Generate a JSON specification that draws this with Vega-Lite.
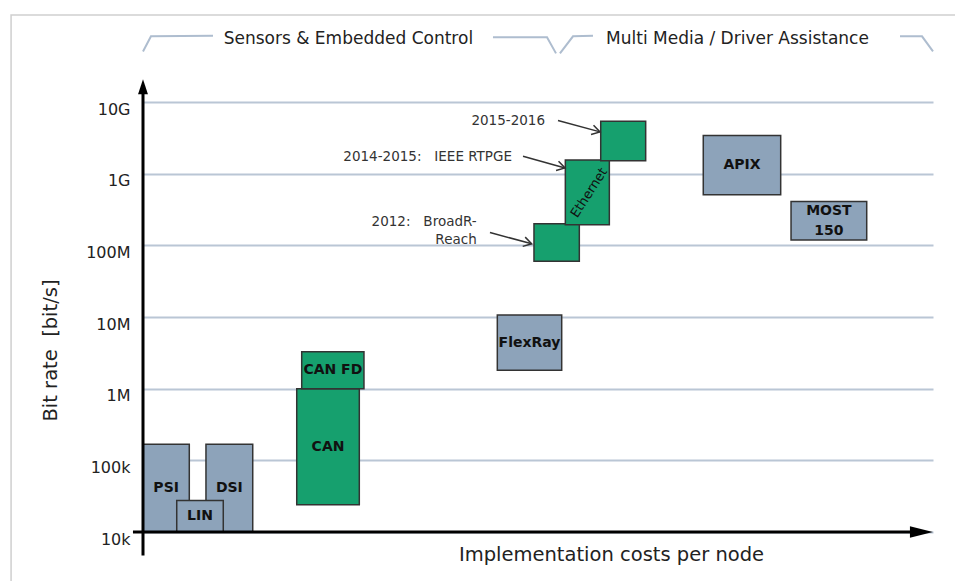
{
  "$schema": "https://vega.github.io/schema/vega-lite/v6.json",
  "width": 790,
  "height": 430,
  "autosize": {"type": "none"},
  "padding": {"left": 143, "top": 102, "right": 22, "bottom": 49},
  "background": "white",
  "config": {
    "view": {"stroke": null},
    "font": "DejaVu Sans",
    "text": {"font": "DejaVu Sans"}
  },
  "datasets": {
    "boxes": [
      {"name": "PSI", "kind": "blue", "x1": 0, "x2": 5.86, "lo": 10000, "hi": 167000},
      {"name": "DSI", "kind": "blue", "x1": 7.97, "x2": 13.89, "lo": 10000, "hi": 167000},
      {"name": "LIN", "kind": "blue", "x1": 4.27, "x2": 10.16, "lo": 10000, "hi": 27500},
      {"name": "CAN", "kind": "green", "x1": 19.46, "x2": 27.38, "lo": 24000, "hi": 1000000},
      {"name": "CAN FD", "kind": "green", "x1": 20.09, "x2": 27.97, "lo": 1000000, "hi": 3270000},
      {"name": "FlexRay", "kind": "blue", "x1": 44.85, "x2": 53.0, "lo": 1800000, "hi": 10700000},
      {"name": "", "kind": "green", "x1": 49.49, "x2": 55.23, "lo": 60000000, "hi": 200000000},
      {"name": "", "kind": "green", "x1": 53.46, "x2": 59.03, "lo": 194000000, "hi": 1550000000},
      {"name": "", "kind": "green", "x1": 57.94, "x2": 63.63, "lo": 1520000000, "hi": 5400000000},
      {"name": "APIX", "kind": "blue", "x1": 70.92, "x2": 80.72, "lo": 508000000, "hi": 3400000000},
      {"name": "MOST\n150", "kind": "blue", "x1": 82.03, "x2": 91.61, "lo": 119000000, "hi": 409000000}
    ],
    "braces": [
      {"g": "a", "o": 1, "cx": 0, "bps": 50800000000},
      {"g": "a", "o": 2, "cx": 1.01, "bps": 82400000000},
      {"g": "a", "o": 3, "cx": 8.86, "bps": 84000000000},
      {"g": "b", "o": 1, "cx": 44.3, "bps": 80000000000},
      {"g": "b", "o": 2, "cx": 51.14, "bps": 80000000000},
      {"g": "b", "o": 3, "cx": 52.28, "bps": 47700000000},
      {"g": "c", "o": 1, "cx": 52.78, "bps": 47700000000},
      {"g": "c", "o": 2, "cx": 54.43, "bps": 82400000000},
      {"g": "c", "o": 3, "cx": 56.96, "bps": 84000000000},
      {"g": "d", "o": 1, "cx": 95.82, "bps": 82400000000},
      {"g": "d", "o": 2, "cx": 98.61, "bps": 82400000000},
      {"g": "d", "o": 3, "cx": 100, "bps": 50800000000}
    ],
    "frame": [
      {"g": "f", "o": 1, "cx": -16.7, "bps": 2070},
      {"g": "f", "o": 2, "cx": -16.7, "bps": 164000000000},
      {"g": "f", "o": 3, "cx": 103, "bps": 164000000000}
    ],
    "groups": [
      {"label": "Sensors & Embedded Control", "cx": 26.0, "bps": 74800000000},
      {"label": "Multi Media / Driver Assistance", "cx": 75.25, "bps": 74800000000}
    ],
    "notes": [
      {"label": "2015-2016", "tx": 50.89, "ty": 5510000000},
      {"label": "2014-2015:\u00a0\u00a0\u00a0IEEE RTPGE", "tx": 46.71, "ty": 1710000000},
      {"label": "2012:\u00a0\u00a0\u00a0BroadR-", "tx": 42.24, "ty": 215000000},
      {"label": "Reach", "tx": 42.24, "ty": 119000000}
    ],
    "arrows": [
      {"ax": 52.53, "ax2": 57.85, "ay": 5510000000, "ay2": 3830000000},
      {"ax": 48.1, "ax2": 53.42, "ay": 1750000000, "ay2": 1200000000},
      {"ax": 43.92, "ax2": 49.2, "ay": 151000000, "ay2": 105000000}
    ],
    "axes": [
      {"axis": "x", "x1": -1.27, "x2": 97.7, "y1": 10000, "y2": 10000},
      {"axis": "y", "x1": 0, "x2": 0, "y1": 4690, "y2": 17000000000}
    ]
  },
  "layer": [
    {
      "data": {"name": "boxes"},
      "mark": {"type": "rect", "stroke": "#333333", "strokeWidth": 1.5},
      "encoding": {
        "x": {
          "field": "x1", "type": "quantitative",
          "scale": {"domain": [0, 100], "nice": false, "zero": false},
          "axis": {
            "title": "Implementation costs per node",
            "labels": false, "ticks": false, "domain": false, "grid": false,
            "titleFontSize": 19.5, "titleFontWeight": "normal", "titleColor": "#222222",
            "titleX": 468, "titleY": 22, "titleBaseline": "middle", "titleAlign": "center"
          }
        },
        "x2": {"field": "x2"},
        "y": {
          "field": "lo", "type": "quantitative",
          "scale": {"type": "log", "domain": [10000, 10000000000], "nice": false, "zero": false},
          "axis": {
            "title": "Bit rate\u00a0\u00a0[bit/s]",
            "values": [10000, 100000, 1000000, 10000000, 100000000, 1000000000, 10000000000],
            "labelExpr": "datum.value >= 1e9 ? (datum.value/1e9) + 'G' : datum.value >= 1e6 ? (datum.value/1e6) + 'M' : (datum.value/1e3) + 'k'",
            "labelFontSize": 16, "labelColor": "#222222", "labelPadding": 13,
            "labelOffset": 7, "labelOverlap": false, "labelBound": false, "labelFlush": false,
            "ticks": false, "tickSize": 0, "domain": false,
            "grid": true, "gridColor": "#bac6d5", "gridWidth": 2,
            "titleFontSize": 19.5, "titleFontWeight": "normal", "titleColor": "#222222",
            "titleAngle": -90, "titleX": -93, "titleY": 248, "titleBaseline": "middle", "titleAlign": "center"
          }
        },
        "y2": {"field": "hi"},
        "fill": {
          "field": "kind", "type": "nominal",
          "scale": {"domain": ["blue", "green"], "range": ["#8da3ba", "#16a06e"]},
          "legend": null
        }
      }
    },
    {
      "data": {"name": "frame"},
      "mark": {"type": "line", "color": "#cfcfcf", "strokeWidth": 1.5},
      "encoding": {
        "x": {"field": "cx", "type": "quantitative"},
        "y": {"field": "bps", "type": "quantitative"},
        "detail": {"field": "g"},
        "order": {"field": "o", "type": "quantitative"}
      }
    },
    {
      "data": {"name": "braces"},
      "mark": {"type": "line", "color": "#aebdcf", "strokeWidth": 2},
      "encoding": {
        "x": {"field": "cx", "type": "quantitative"},
        "y": {"field": "bps", "type": "quantitative"},
        "detail": {"field": "g"},
        "order": {"field": "o", "type": "quantitative"}
      }
    },
    {
      "data": {"name": "groups"},
      "mark": {"type": "text", "fontSize": 17, "color": "#222222", "align": "center", "baseline": "middle"},
      "encoding": {
        "x": {"field": "cx", "type": "quantitative"},
        "y": {"field": "bps", "type": "quantitative"},
        "text": {"field": "label"}
      }
    },
    {
      "data": {"name": "boxes"},
      "transform": [
        {"filter": "datum.name != '' && indexof(datum.name, '\\n') < 0"},
        {"calculate": "(datum.x1 + datum.x2) / 2", "as": "mx"},
        {"calculate": "sqrt(datum.lo * datum.hi)", "as": "my"}
      ],
      "mark": {"type": "text", "fontSize": 14, "fontWeight": "bold", "color": "#111111", "align": "center", "baseline": "middle"},
      "encoding": {
        "x": {"field": "mx", "type": "quantitative"},
        "y": {"field": "my", "type": "quantitative"},
        "text": {"field": "name"}
      }
    },
    {
      "data": {"name": "boxes"},
      "transform": [
        {"filter": "indexof(datum.name, '\\n') >= 0"},
        {"calculate": "(datum.x1 + datum.x2) / 2", "as": "mx"},
        {"calculate": "sqrt(datum.lo * datum.hi)", "as": "my"}
      ],
      "mark": {"type": "text", "fontSize": 14, "fontWeight": "bold", "color": "#111111", "align": "center", "baseline": "middle", "lineBreak": "\n", "lineHeight": 20, "dy": -10},
      "encoding": {
        "x": {"field": "mx", "type": "quantitative"},
        "y": {"field": "my", "type": "quantitative"},
        "text": {"field": "name"}
      }
    },
    {
      "data": {"values": [{"label": "Ethernet", "tx": 56.46, "ty": 542000000}]},
      "mark": {"type": "text", "fontSize": 13, "color": "#111111", "align": "center", "baseline": "middle", "angle": -57},
      "encoding": {
        "x": {"field": "tx", "type": "quantitative"},
        "y": {"field": "ty", "type": "quantitative"},
        "text": {"field": "label"}
      }
    },
    {
      "data": {"name": "notes"},
      "mark": {"type": "text", "fontSize": 13.5, "color": "#333333", "align": "right", "baseline": "middle"},
      "encoding": {
        "x": {"field": "tx", "type": "quantitative"},
        "y": {"field": "ty", "type": "quantitative"},
        "text": {"field": "label"}
      }
    },
    {
      "data": {"name": "arrows"},
      "mark": {"type": "rule", "color": "#333333", "strokeWidth": 1.5},
      "encoding": {
        "x": {"field": "ax", "type": "quantitative"},
        "x2": {"field": "ax2"},
        "y": {"field": "ay", "type": "quantitative"},
        "y2": {"field": "ay2"}
      }
    },
    {
      "data": {"name": "arrows"},
      "mark": {"type": "point", "shape": "M-1,-0.6L0,0L-1,0.6", "filled": false, "stroke": "#333333", "strokeWidth": 1.5, "size": 256, "angle": 15, "opacity": 1},
      "encoding": {
        "x": {"field": "ax2", "type": "quantitative"},
        "y": {"field": "ay2", "type": "quantitative"}
      }
    },
    {
      "data": {"name": "axes"},
      "mark": {"type": "rule", "color": "#000000", "strokeWidth": 3},
      "encoding": {
        "x": {"field": "x1", "type": "quantitative"},
        "x2": {"field": "x2"},
        "y": {"field": "y1", "type": "quantitative"},
        "y2": {"field": "y2"}
      }
    },
    {
      "data": {"values": [{"hx": 98.54, "hy": 10000}]},
      "mark": {"type": "point", "shape": "M1,0L-1,-0.5L-1,0.5Z", "filled": true, "color": "#000000", "size": 529, "opacity": 1},
      "encoding": {
        "x": {"field": "hx", "type": "quantitative"},
        "y": {"field": "hy", "type": "quantitative"}
      }
    },
    {
      "data": {"values": [{"hx": 0, "hy": 16300000000}]},
      "mark": {"type": "point", "shape": "M0,-1L0.66,1L-0.66,1Z", "filled": true, "color": "#000000", "size": 225, "opacity": 1},
      "encoding": {
        "x": {"field": "hx", "type": "quantitative"},
        "y": {"field": "hy", "type": "quantitative"}
      }
    }
  ]
}
